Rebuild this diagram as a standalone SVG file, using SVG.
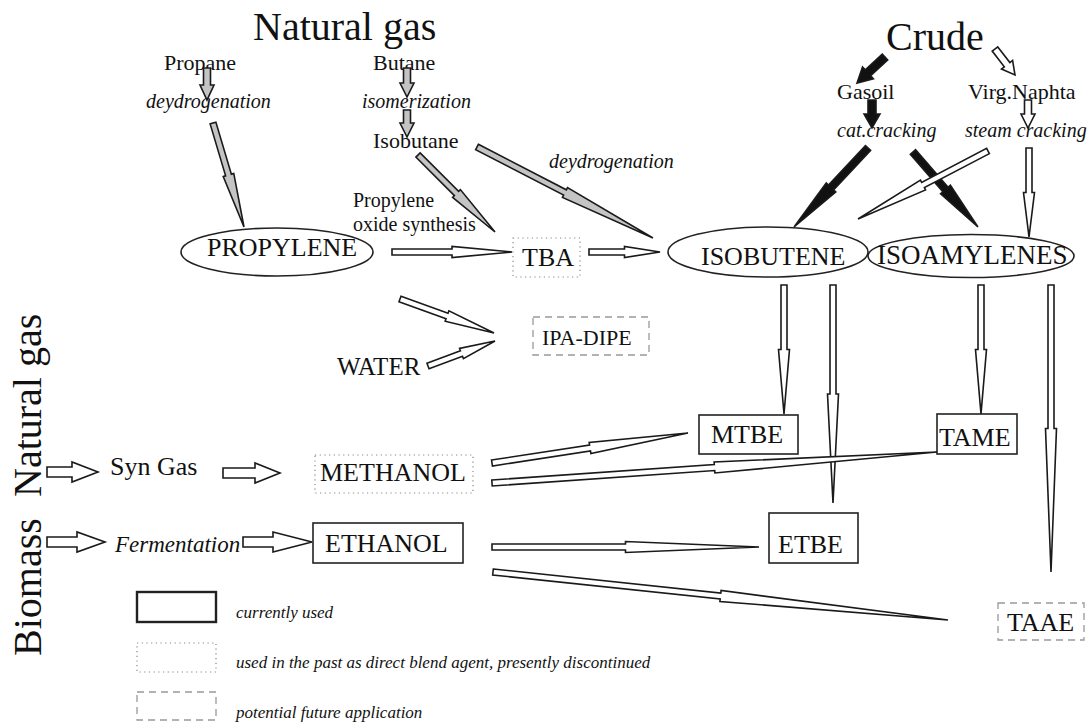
<svg xmlns="http://www.w3.org/2000/svg" width="1088" height="725" viewBox="0 0 1088 725">
<style>
text{font-family:"Liberation Serif","Times New Roman",serif;fill:#111}
.it{font-style:italic}
.n{stroke:#1a1a1a;stroke-width:1.6;stroke-linejoin:miter}
.w{fill:#fff}
.g{fill:#c4c4c4}
.b{fill:#111}
.solid{fill:none;stroke:#222;stroke-width:1.6}
.dot{fill:none;stroke:#888;stroke-width:1.2;stroke-dasharray:1.2 3.5}
.dash{fill:none;stroke:#999;stroke-width:1.3;stroke-dasharray:7 5}
.ell{fill:none;stroke:#222;stroke-width:1.6}
.s26{font-size:26px}
.s22{font-size:22px}
.s20{font-size:20px}
.s40{font-size:40px}
</style>
<defs>
<path id="nd" d="M0,-3 L50,-3 L50,-5.5 L100,0 L50,5.5 L50,3 L0,3 Z" vector-effect="non-scaling-stroke"/>
<path id="ndb" d="M0,-3.5 L50,-3.5 L50,-6.5 L100,0 L50,6.5 L50,3.5 L0,3.5 Z" vector-effect="non-scaling-stroke"/>
</defs>
<rect width="1088" height="725" fill="#fff"/>

<g id="labels">
<text class="s40" x="253" y="40">Natural gas</text>
<text class="s40" x="886" y="50">Crude</text>
<text class="s40" transform="translate(41,497) rotate(-90)">Natural gas</text>
<text class="s40" transform="translate(41,656) rotate(-90)">Biomass</text>
<text class="s22" x="164" y="70">Propane</text>
<text class="s20 it" x="146" y="108">deydrogenation</text>
<text class="s22" x="373" y="70">Butane</text>
<text class="s20 it" x="362" y="108">isomerization</text>
<text class="s22" x="373" y="148">Isobutane</text>
<text class="s20 it" x="549" y="168">deydrogenation</text>
<text class="s20" x="353" y="207">Propylene</text>
<text class="s20" x="353" y="231">oxide synthesis</text>
<text class="s22" x="837" y="99">Gasoil</text>
<text class="s22" x="968" y="99">Virg.Naphta</text>
<text class="s20 it" x="837" y="137">cat.cracking</text>
<text class="s20 it" x="965" y="137">steam cracking</text>
<text class="s26" x="110" y="475">Syn Gas</text>
<text class="it" font-size="23" x="115" y="552">Fermentation</text>
<text font-size="25" x="337" y="375">WATER</text>
</g>

<g id="propylene"><ellipse class="ell" cx="277" cy="252" rx="96" ry="24"/><text class="s26" x="207" y="256">PROPYLENE</text></g>
<g id="isobutene"><ellipse class="ell" cx="768" cy="252" rx="100" ry="25"/><text class="s26" x="701" y="265">ISOBUTENE</text></g>
<g id="isoamylenes"><ellipse class="ell" cx="971" cy="256" rx="103" ry="21.5"/><text font-size="27" x="877" y="264">ISOAMYLENES</text></g>
<g id="tba"><rect class="dot" x="513" y="238" width="67" height="39"/><text class="s26" x="522" y="266">TBA</text></g>
<g id="ipa-dipe"><rect class="dash" x="533" y="317" width="116" height="38"/><text class="s22" x="542" y="345">IPA-DIPE</text></g>
<g id="methanol"><rect class="dot" x="315" y="455" width="158" height="38"/><text class="s26" x="320" y="481">METHANOL</text></g>
<g id="ethanol"><rect class="solid" x="313" y="523" width="150" height="40"/><text class="s26" x="325" y="552">ETHANOL</text></g>
<g id="mtbe"><rect class="solid" x="699" y="415" width="99" height="39"/><text class="s26" x="711" y="443">MTBE</text></g>
<g id="tame"><rect class="solid" x="937" y="414" width="80" height="40"/><text class="s26" x="939" y="446">TAME</text></g>
<g id="etbe"><rect class="solid" x="769" y="513" width="89" height="50"/><text class="s26" x="778" y="553">ETBE</text></g>
<g id="taae"><rect class="dash" x="998" y="603" width="86" height="37"/><text class="s26" x="1007" y="631">TAAE</text></g>

<g id="legend">
<rect x="137" y="592" width="79" height="30" fill="none" stroke="#222" stroke-width="2.4"/>
<text class="it" font-size="17" x="236" y="618">currently used</text>
<rect class="dot" x="137" y="643" width="79" height="29"/>
<text class="it" font-size="17" x="236" y="668">used in the past as direct blend agent, presently discontinued</text>
<rect class="dash" x="137" y="692" width="79" height="28"/>
<text class="it" font-size="17" x="236" y="718">potential future application</text>
</g>

<g id="connectors">
<polygon class="n g" points="203.5,68 210.5,68 210.5,85 214,85 207,100 200,85 203.5,85"/>
<polygon class="n g" points="403.5,68 410.5,68 410.5,83 414,83 407,97 400,83 403.5,83"/>
<polygon class="n g" points="403.5,110 410.5,110 410.5,123 414,123 407,137 400,123 403.5,123"/>
<polygon class="n b" points="868,100 876,100 876,114 880,114 872,128 864,114 868,114"/>
<polygon class="n w" points="1024.5,100 1031.5,100 1031.5,114 1035,114 1028,128 1021,114 1024.5,114"/>
<polygon class="n b" points="882.3,54.1 865.3,69.9 862.5,66.9 857,83 873.4,78.7 870.7,75.7 887.7,59.9"/>
<polygon class="n w" points="997.8,46.9 1009.9,62.6 1012.6,60.4 1015,75 1001.5,69.0 1004.3,66.8 992.2,51.1"/>
<polygon class="n w" points="47,467 72,467 72,462 98,472 72,482 72,477 47,477"/>
<polygon class="n w" points="223,468 255,468 255,463 280,473 255,483 255,478 223,478"/>
<polygon class="n w" points="47,537 77,537 77,532 105,542 77,552 77,547 47,547"/>
<polygon class="n w" points="243,537 273,537 273,532 312,542 273,552 273,547 243,547"/>

<use href="#nd" class="n g" transform="translate(213,123) rotate(73.4) scale(1.085,1)"/>
<use href="#nd" class="n g" transform="translate(418,155) rotate(45) scale(1.089,1)"/>
<use href="#nd" class="n g" transform="translate(477,147) rotate(27.34) scale(1.981,1)"/>
<use href="#nd" class="n w" transform="translate(392,252) scale(1.2,1)"/>
<use href="#nd" class="n w" transform="translate(589,252) scale(0.71,1)"/>
<use href="#nd" class="n w" transform="translate(400,299) rotate(19.89) scale(1.0,1)"/>
<use href="#nd" class="n w" transform="translate(428,366) rotate(-20.46) scale(0.715,1)"/>
<use href="#ndb" class="n b" transform="translate(868,148) rotate(133.13) scale(1.082,1)"/>
<use href="#ndb" class="n b" transform="translate(913,152) rotate(49.09) scale(0.992,1)"/>
<use href="#nd" class="n w" transform="translate(988,151) rotate(152.39) scale(1.467,1)"/>
<use href="#nd" class="n w" transform="translate(1029,148) rotate(90) scale(0.89,1)"/>
<use href="#nd" class="n w" transform="translate(784,285) rotate(90) scale(1.29,1)"/>
<use href="#nd" class="n w" transform="translate(833,285) rotate(90) scale(2.18,1)"/>
<use href="#nd" class="n w" transform="translate(981,285) rotate(90) scale(1.29,1)"/>
<use href="#nd" class="n w" transform="translate(1051,285) rotate(90) scale(2.87,1)"/>
<use href="#nd" class="n w" transform="translate(492,463) rotate(-8.70) scale(1.983,1)"/>
<use href="#nd" class="n w" transform="translate(492,483) rotate(-3.985) scale(4.461,1)"/>
<use href="#nd" class="n w" transform="translate(492,547) scale(2.67,1)"/>
<use href="#nd" class="n w" transform="translate(493,572) rotate(6.02) scale(4.575,1)"/>
</g>
</svg>
